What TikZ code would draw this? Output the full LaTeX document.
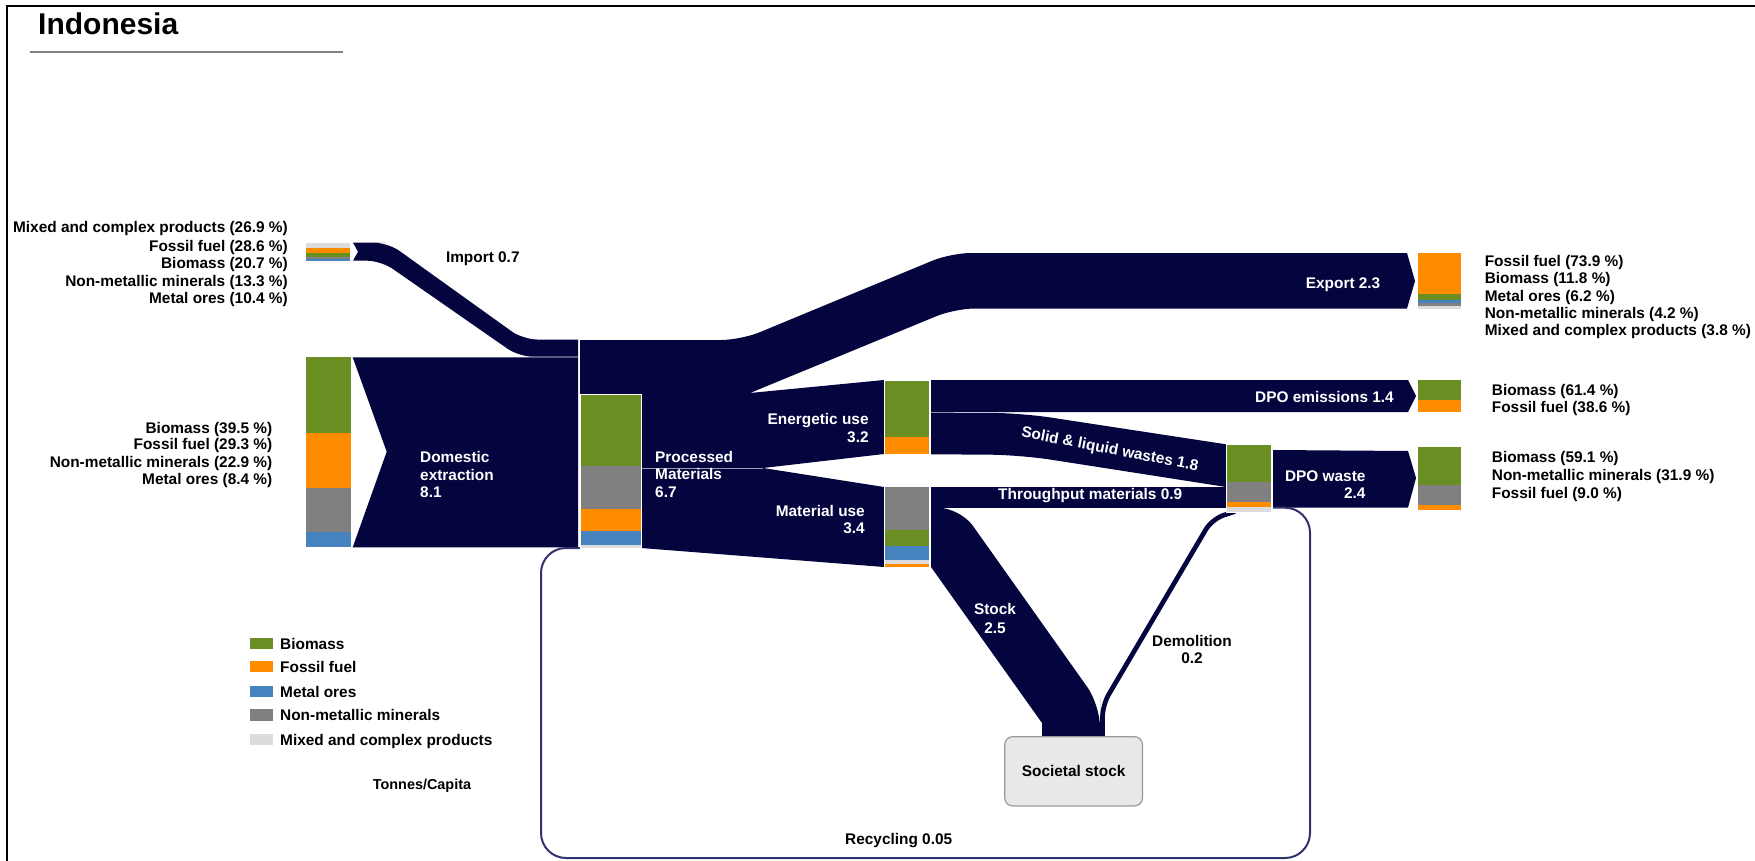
\documentclass[tikz,border=0pt]{standalone}
\usepackage{fontspec}
\setmainfont{Liberation Sans}
\definecolor{navy}{RGB}{4,4,62}
\definecolor{bio}{RGB}{107,142,35}
\definecolor{fos}{RGB}{255,140,0}
\definecolor{met}{RGB}{70,130,190}
\definecolor{nmm}{RGB}{128,128,128}
\definecolor{mix}{RGB}{220,220,220}
\definecolor{recyc}{RGB}{50,50,110}
\definecolor{boxfill}{RGB}{232,232,232}
\begin{document}
\begin{tikzpicture}[x=1pt,y=-1pt,
  lab/.style={font=\bfseries\fontsize{15.4}{18}\selectfont, inner sep=0pt, text height=11pt, text depth=0pt},
  wlab/.style={lab, text=white},
  barline/.style={draw=white, line width=0.8pt},
  sep/.style={draw=white, line width=0.6pt, opacity=0.6}]
\useasboundingbox (0,0) rectangle (1755,861);
\fill[white] (0,0) rectangle (1755,861);
% frame and title
\draw[line width=1.5pt] (7,861) -- (7,6) -- (1755,6);
\node[anchor=base west, font=\bfseries\fontsize{30}{36}\selectfont, inner sep=0pt] (title) at (38,35) {Indonesia};
\draw[nmm, line width=1.5pt] (30,52) -- (343,52);

% ---------- flows ----------
% import
\fill[navy] (353,242.7) -- (358,251.7) -- (353,260.7) -- (365,260.7) [rounded corners=14pt] -- (381,260.7) -- (519,356.7) -- (550,356.7) [sharp corners] -- (578,356.7) -- (578,339.5) -- (555,339.5) [rounded corners=14pt] -- (523,339.5) -- (388,242.7) -- (372,242.7) [sharp corners] -- cycle;
% domestic extraction
\fill[navy] (352.7,357.3) -- (578,357.3) -- (578,547.3) -- (352.7,547.3) -- (386.7,451.7) -- cycle;
% processed materials column
\fill[navy] (580,340) rectangle (641,548);
% export + energetic + material use
\fill[navy] (641,340) -- (700,340) [rounded corners=20pt] -- (741,340) -- (951,253) -- (990,253) [sharp corners] -- (1407,253) -- (1415,281) -- (1407,308.5) -- (1000,308.5) [rounded corners=20pt] -- (955,308.5) -- (801.25,371.9) [sharp corners] -- (750,393) -- (884,380) -- (884,454) -- (763,468) -- (884,487) -- (884,567) -- (641,548) -- cycle;
\draw[sep] (641,468) -- (763,468);
% DPO emissions
\fill[navy] (931,380) -- (1408,380) -- (1416,396) -- (1408,412) -- (931,412) -- cycle;
% solid & liquid wastes
\fill[navy] (931,412.7) -- (980,412.8) [rounded corners=30pt] -- (1021,413) -- (1150,432.7) [sharp corners] -- (1226,444.3) -- (1226,487) -- (1150,475.1) [rounded corners=30pt] -- (1021,455) -- (980,454.6) [sharp corners] -- (931,454.3) -- cycle;
% throughput
\fill[navy] (931,487.3) rectangle (1226,507.7);
% stock
\fill[navy] (931,507.7) -- (945,507.7) [rounded corners=22pt] -- (960,507.7) -- (1100,705) -- (1100,720) [sharp corners] -- (1100,737) -- (1042,737) -- (1042,723) -- (931,567) -- cycle;
% DPO waste
\fill[navy] (1273,450) -- (1408,451) -- (1416,478) -- (1408,507.7) -- (1273,507.7) -- cycle;
% demolition
\draw[navy, line width=4.7pt, rounded corners=12pt] (1102.5,737) -- (1102.5,705) -- (1212,519) -- (1235,511.5);
% recycling
\draw[recyc, line width=2pt, rounded corners=25pt] (1273,507.7) -- (1310,507.7) -- (1310,858) -- (541,858) -- (541,548) -- (580,548);

% ---------- bars ----------
% import bar
\fill[mix] (306,242.7) rectangle (350,247.6);
\fill[fos] (306,247.6) rectangle (350,252.8);
\fill[bio] (306,252.8) rectangle (350,256.5);
\fill[nmm] (306,256.5) rectangle (350,258.9);
\fill[met] (306,258.9) rectangle (350,260.7);
% DE bar
\fill[bio] (306,357.3) rectangle (350.5,432.7);
\fill[fos] (306,432.7) rectangle (350.5,487.7);
\fill[nmm] (306,487.7) rectangle (350.5,531.7);
\fill[met] (306,531.7) rectangle (350.5,547.3);
% PM bar
\fill[bio] (580,394.3) rectangle (641,465.7);
\fill[nmm] (580,465.7) rectangle (641,509.3);
\fill[fos] (580,509.3) rectangle (641,530.5);
\fill[met] (580,530.5) rectangle (641,545);
\fill[mix] (580,545) rectangle (641,548.3);
\draw[barline] (580,394.3) rectangle (641,548.3);
% EU bar
\fill[bio] (884,380) rectangle (929,436.5);
\fill[fos] (884,436.5) rectangle (929,454.3);
\draw[barline] (884,380) rectangle (929,454.3);
% MU bar
\fill[nmm] (884,486.7) rectangle (929,530);
\fill[bio] (884,530) rectangle (929,545.7);
\fill[met] (884,545.7) rectangle (929,560);
\fill[mix] (884,560) rectangle (929,564.3);
\fill[fos] (884,564.3) rectangle (929,567.3);
\draw[barline] (884,486.7) rectangle (929,567.3);
% DPO waste mid bar
\fill[bio] (1226,444.3) rectangle (1271,481.7);
\fill[nmm] (1226,481.7) rectangle (1271,501.7);
\fill[fos] (1226,501.7) rectangle (1271,506.7);
\fill[mix] (1226,506.7) rectangle (1271,512.3);
\draw[barline] (1226,444.3) rectangle (1271,512.3);
% export bar
\fill[fos] (1418,253.3) rectangle (1461,294);
\fill[bio] (1418,294) rectangle (1461,299.8);
\fill[met] (1418,299.8) rectangle (1461,302.9);
\fill[nmm] (1418,302.9) rectangle (1461,305.9);
\fill[mix] (1418,305.9) rectangle (1461,308.5);
% DPO emissions bar
\fill[bio] (1418,380) rectangle (1461,400);
\fill[fos] (1418,400) rectangle (1461,412);
% DPO waste right bar
\fill[bio] (1418,446.7) rectangle (1461,485);
\fill[nmm] (1418,485) rectangle (1461,505);
\fill[fos] (1418,505) rectangle (1461,510);

% societal stock
\node[draw=nmm!80, line width=1.2pt, fill=boxfill, rounded corners=8pt, minimum width=137.7pt, minimum height=69.3pt, lab, text height=11pt] (stock) at (1073.6,771.3) {Societal stock};

% ---------- labels (black) ----------
\node[lab, anchor=east] (i1) at (288,227.3) {Mixed and complex products (26.9 \%)};
\node[lab, anchor=east] (i2) at (288,245.7) {Fossil fuel (28.6 \%)};
\node[lab, anchor=east] (i3) at (288,262.7) {Biomass (20.7 \%)};
\node[lab, anchor=east] (i4) at (288,280.7) {Non-metallic minerals (13.3 \%)};
\node[lab, anchor=east] (i5) at (288,298.3) {Metal ores (10.4 \%)};
\node[lab, anchor=east] (d1) at (272.5,427.7) {Biomass (39.5 \%)};
\node[lab, anchor=east] (d2) at (272.5,444.3) {Fossil fuel (29.3 \%)};
\node[lab, anchor=east] (d3) at (272.5,462.3) {Non-metallic minerals (22.9 \%)};
\node[lab, anchor=east] (d4) at (272.5,479) {Metal ores (8.4 \%)};
\node[lab, anchor=west] (imp) at (445.8,257.3) {Import 0.7};
\node[lab, anchor=west] (e1) at (1484.6,260.7) {Fossil fuel (73.9 \%)};
\node[lab, anchor=west] (e2) at (1484.6,278.3) {Biomass (11.8 \%)};
\node[lab, anchor=west] (e3) at (1484.6,296) {Metal ores (6.2 \%)};
\node[lab, anchor=west] (e4) at (1484.6,312.7) {Non-metallic minerals (4.2 \%)};
\node[lab, anchor=west] (e5) at (1484.6,330) {Mixed and complex products (3.8 \%)};
\node[lab, anchor=west] (m1) at (1491.7,390) {Biomass (61.4 \%)};
\node[lab, anchor=west] (m2) at (1491.7,406.7) {Fossil fuel (38.6 \%)};
\node[lab, anchor=west] (w1) at (1491.7,457.3) {Biomass (59.1 \%)};
\node[lab, anchor=west] (w2) at (1491.7,475) {Non-metallic minerals (31.9 \%)};
\node[lab, anchor=west] (w3) at (1491.7,493.3) {Fossil fuel (9.0 \%)};
\node[lab] (dem1) at (1192,641) {Demolition};
\node[lab] (dem2) at (1192,658.3) {0.2};
\node[lab, anchor=west] (rec) at (845,839) {Recycling 0.05};
% legend
\fill[bio] (250,637.7) rectangle (272.7,649);
\fill[fos] (250,661) rectangle (272.7,672.3);
\fill[met] (250,685.7) rectangle (272.7,697);
\fill[nmm] (250,709.3) rectangle (272.7,720.7);
\fill[mix] (250,733.7) rectangle (272.7,745);
\node[lab, anchor=west] (g1) at (280,643.7) {Biomass};
\node[lab, anchor=west] (g2) at (280,666.7) {Fossil fuel};
\node[lab, anchor=west] (g3) at (280,691.7) {Metal ores};
\node[lab, anchor=west] (g4) at (280,715.3) {Non-metallic minerals};
\node[lab, anchor=west] (g5) at (280,740) {Mixed and complex products};
\node[lab, anchor=west, font=\bfseries\fontsize{14.4}{17}\selectfont] (unit) at (372.7,784) {Tonnes/Capita};

% ---------- labels (white) ----------
\node[wlab, anchor=west] (de1) at (420,456.7) {Domestic};
\node[wlab, anchor=west] (de2) at (420,475) {extraction};
\node[wlab, anchor=west] (de3) at (420,491.7) {8.1};
\node[wlab, anchor=west] (pm1) at (655,457.3) {Processed};
\node[wlab, anchor=west] (pm2) at (655,474.3) {Materials};
\node[wlab, anchor=west] (pm3) at (655,492.3) {6.7};
\node[wlab, anchor=east] (eu1) at (868.8,419) {Energetic use};
\node[wlab, anchor=east] (eu2) at (868.8,436.7) {3.2};
\node[wlab, anchor=east] (mu1) at (865,511) {Material use};
\node[wlab, anchor=east] (mu2) at (865,528.3) {3.4};
\node[wlab, anchor=east] (exl) at (1380.5,282.7) {Export 2.3};
\node[wlab, anchor=east] (eml) at (1394,397.3) {DPO emissions 1.4};
\node[wlab, rotate=-11] (slw) at (1110,448.5) {Solid \& liquid wastes 1.8};
\node[wlab, anchor=west] (thr) at (998,494.3) {Throughput materials 0.9};
\node[wlab, anchor=east] (dw1) at (1365.7,476) {DPO waste};
\node[wlab, anchor=east] (dw2) at (1365.7,493.3) {2.4};
\node[wlab] (st1) at (995,609.3) {Stock};
\node[wlab] (st2) at (995,627.7) {2.5};
\end{tikzpicture}
\end{document}
